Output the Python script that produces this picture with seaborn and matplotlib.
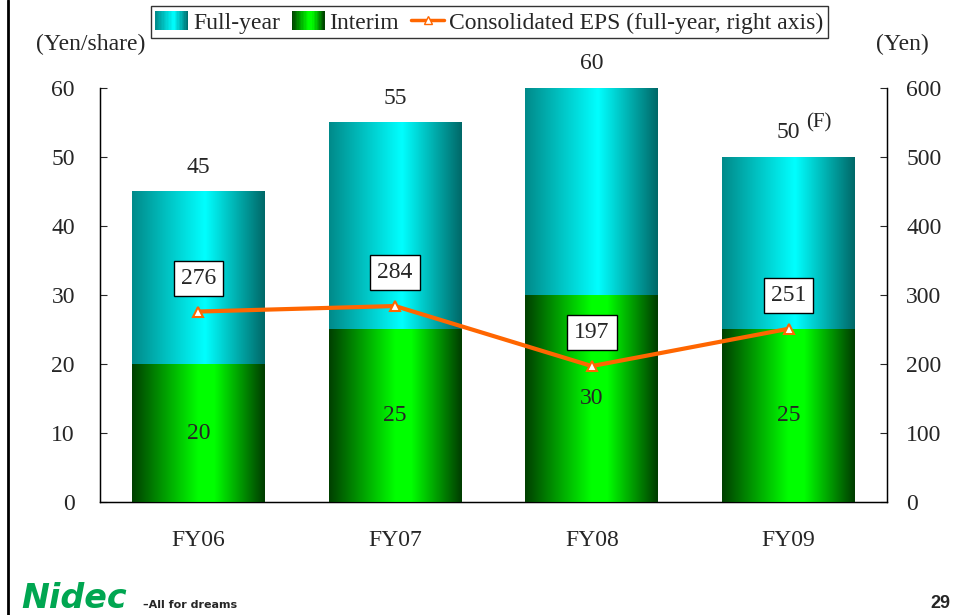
import numpy as np
import pandas as pd
import matplotlib.pyplot as plt
import seaborn as sns
from matplotlib.colors import LinearSegmentedColormap
from matplotlib.lines import Line2D
from matplotlib.patches import Patch, Rectangle
from matplotlib.legend_handler import HandlerBase

# Dividend data (yen/share) and EPS (yen)
years = ["FY06", "FY07", "FY08", "FY09"]
full_year = [45, 55, 60, 50]
interim = [20, 25, 30, 25]
eps = [276, 284, 197, 251]
left_ticks = [0, 10, 20, 30, 40, 50, 60]
right_ticks = [0, 100, 200, 300, 400, 500, 600]

df = pd.DataFrame({"year": years, "full": full_year, "interim": interim})

sns.set_style("white")
plt.rcParams["font.family"] = ["Liberation Serif", "DejaVu Serif"]

FS = 17

# cylinder-like horizontal gradients
cyan_cmap = LinearSegmentedColormap.from_list(
    "cy", [(0, "#008a8a"), (0.55, "#00ffff"), (1, "#006868")])
green_cmap = LinearSegmentedColormap.from_list(
    "gr", [(0, "#004000"), (0.5, "#00ff00"), (0.62, "#00ff00"), (1, "#003c00")])


class GradientHandler(HandlerBase):
    """legend box drawn as thin vertical slices of a colormap"""
    def __init__(self, cmap, steps=24):
        super().__init__()
        self.cmap = cmap
        self.steps = steps

    def create_artists(self, legend, orig_handle, xdescent, ydescent,
                       width, height, fontsize, trans):
        arts = []
        sw = width / self.steps
        for k in range(self.steps):
            c = self.cmap((k + 0.5) / self.steps)
            arts.append(Rectangle((-xdescent + k * sw, -ydescent), sw * 1.05, height,
                                  facecolor=c, edgecolor="none", transform=trans))
        return arts


fig = plt.figure(figsize=(9.63, 6.15), dpi=100)
ax = fig.add_axes([0.1038, 0.1837, 0.8172, 0.6733])

sns.barplot(data=df, x="year", y="full", color="#00ffff", width=0.675,
            errorbar=None, ax=ax, zorder=2)
sns.barplot(data=df, x="year", y="interim", color="#00ff00", width=0.675,
            errorbar=None, ax=ax, zorder=3)

grad = np.linspace(0, 1, 256).reshape(1, -1)
n = len(years)
for i, p in enumerate(list(ax.patches)):
    cmap = cyan_cmap if i < n else green_cmap
    x0, y0 = p.get_x(), p.get_y()
    w, h = p.get_width(), p.get_height()
    p.set_facecolor("none")
    p.set_edgecolor("none")
    im = ax.imshow(grad, cmap=cmap, aspect="auto", extent=[x0, x0 + w, y0, y0 + h],
                   zorder=2 if i < n else 3, interpolation="bilinear")
    im.set_clip_path(p)

ax.set_xlim(-0.5, n - 0.5)
ax.set_ylim(0, 60)
ax.set_yticks(left_ticks)
ax.set_xlabel("")
ax.set_ylabel("")
ax.tick_params(axis="y", direction="in", length=5, pad=18, labelsize=FS, left=True)
ax.tick_params(axis="x", length=0, pad=20, labelsize=FS)
for s in ["left", "right", "bottom"]:
    ax.spines[s].set_color("black")
    ax.spines[s].set_linewidth(1.0)
ax.spines["top"].set_visible(False)

# bar labels
for i in range(n):
    ax.text(i, full_year[i] + 2.0, str(full_year[i]), ha="center", va="bottom", fontsize=FS)
    ax.text(i, interim[i] / 2, str(interim[i]), ha="center", va="center", fontsize=FS)
ax.text(n - 1 + 0.09, full_year[-1] + 3.6, "(F)", ha="left", va="bottom", fontsize=15)

# EPS on right axis
ax2 = ax.twinx()
xs = np.arange(n)
ax2.plot(xs, eps, color="#ff6600", lw=3, marker="^", markersize=7,
         markerfacecolor="white", markeredgecolor="#ff6600", markeredgewidth=1.5, zorder=5)
ax2.set_ylim(0, 600)
ax2.set_yticks(right_ticks)
ax2.tick_params(axis="y", direction="in", length=5, pad=14, labelsize=FS, right=True)
for s in ["left", "right", "bottom"]:
    ax2.spines[s].set_color("black")
ax2.spines["top"].set_visible(False)
for i in range(n):
    ax2.annotate(str(eps[i]), (xs[i], eps[i]), xytext=(0, 24), textcoords="offset points",
                 ha="center", va="center", fontsize=17,
                 bbox=dict(boxstyle="square,pad=0.3", fc="white", ec="black", lw=1))

fig.text(0.094, 0.927, "(Yen/share)", ha="center", va="center", fontsize=FS)
fig.text(0.937, 0.927, "(Yen)", ha="center", va="center", fontsize=FS)

full_h = Patch(facecolor="#00c8c8")
int_h = Patch(facecolor="#00c000")
eps_h = Line2D([], [], color="#ff6600", lw=2.5, marker="^", markersize=6,
               markerfacecolor="white", markeredgecolor="#ff6600")
leg = fig.legend([full_h, int_h, eps_h],
                 ["Full-year", "Interim", "Consolidated EPS (full-year, right axis)"],
                 handler_map={full_h: GradientHandler(cyan_cmap), int_h: GradientHandler(green_cmap)},
                 loc="center", bbox_to_anchor=(0.508, 0.964), ncol=3, fontsize=FS,
                 frameon=True, fancybox=False, edgecolor="black", handlelength=1.4,
                 handleheight=0.9, handletextpad=0.2, columnspacing=0.5, borderpad=0.2,
                 borderaxespad=0)
leg.get_frame().set_linewidth(1.0)

# page frame line, logo and page number
fig.add_artist(Line2D([0.0083, 0.0083], [0, 1], color="black", lw=2, transform=fig.transFigure))
fig.text(0.022, 0.027, "Nidec", color="#00a651", fontsize=24, fontweight="heavy",
         fontstyle="italic", family="DejaVu Sans", va="center", ha="left")
fig.text(0.148, 0.016, "\u2013All for dreams", fontsize=8, fontweight="bold",
         family="DejaVu Sans", va="center", ha="left")
fig.text(0.987, 0.005, "29", fontsize=13, fontweight="bold", family="Liberation Sans",
         ha="right", va="bottom")

fig.savefig("out.png", dpi=100)
